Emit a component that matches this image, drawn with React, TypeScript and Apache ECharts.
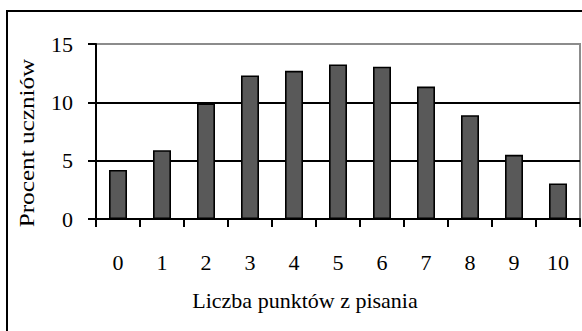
import React, { useEffect, useRef } from "react";
import * as echarts from "echarts";

const categories = ["0", "1", "2", "3", "4", "5", "6", "7", "8", "9", "10"];
const values = [4.2, 5.9, 9.9, 12.3, 12.7, 13.25, 13.05, 11.35, 8.9, 5.5, 3.05];
const yTicks = [0, 5, 10, 15];
const yTitle = "Procent uczniów";
const xTitle = "Liczba punktów z pisania";

const FONT = "Liberation Serif";

export default function App() {
  const ref = useRef<HTMLDivElement>(null);
  useEffect(() => {
    if (!ref.current) return;
    const chart = echarts.init(ref.current, null, { renderer: "svg" });
    chart.setOption({
      animation: false,
      backgroundColor: "#fff",
      grid: {
        left: 96,
        top: 44,
        width: 484,
        height: 175,
        show: true,
        borderColor: "#8c8c8c",
        borderWidth: 2,
        backgroundColor: "transparent",
      },
      xAxis: {
        type: "category",
        data: categories,
        axisLine: { lineStyle: { color: "#000", width: 2 } },
        axisTick: { show: true, length: 8, interval: 0, lineStyle: { color: "#000", width: 2 } },
        axisLabel: { fontFamily: FONT, fontSize: 22, color: "#000", margin: 32, interval: 0 },
        splitLine: { show: false },
      },
      yAxis: {
        type: "value",
        min: yTicks[0],
        max: yTicks[yTicks.length - 1],
        interval: 5,
        axisLine: { show: true, lineStyle: { color: "#000", width: 2 } },
        axisTick: { show: true, length: 8, lineStyle: { color: "#000", width: 2 } },
        axisLabel: { fontFamily: FONT, fontSize: 22, color: "#000", margin: 23 },
        splitLine: { show: true, lineStyle: { color: ["#000", "#000", "#000", "#8c8c8c"], width: 2 } },
      },
      series: [
        {
          type: "bar",
          data: values,
          barWidth: 18,
          itemStyle: { color: "#595959", borderColor: "#000", borderWidth: 1.6 },
        },
      ],
      graphic: [
        {
          type: "rect",
          shape: { x: 7, y: 11, width: 600, height: 340 },
          style: { fill: "none", stroke: "#000", lineWidth: 2 },
          silent: true,
        },
        {
          type: "text",
          x: 27,
          y: 143,
          rotation: Math.PI / 2,
          scaleX: 1.2,
          style: {
            text: yTitle,
            fontFamily: FONT,
            fontSize: 21,
            fill: "#000",
            align: "center",
            verticalAlign: "middle",
          },
        },
        {
          type: "text",
          x: 305,
          y: 300,
          style: {
            text: xTitle,
            fontFamily: FONT,
            fontSize: 22,
            fill: "#000",
            align: "center",
            verticalAlign: "middle",
          },
        },
      ],
    });
    return () => chart.dispose();
  }, []);
  return (
    <div
      ref={ref}
      style={{ position: "fixed", left: 0, top: 0, width: 582, height: 331 }}
    />
  );
}
